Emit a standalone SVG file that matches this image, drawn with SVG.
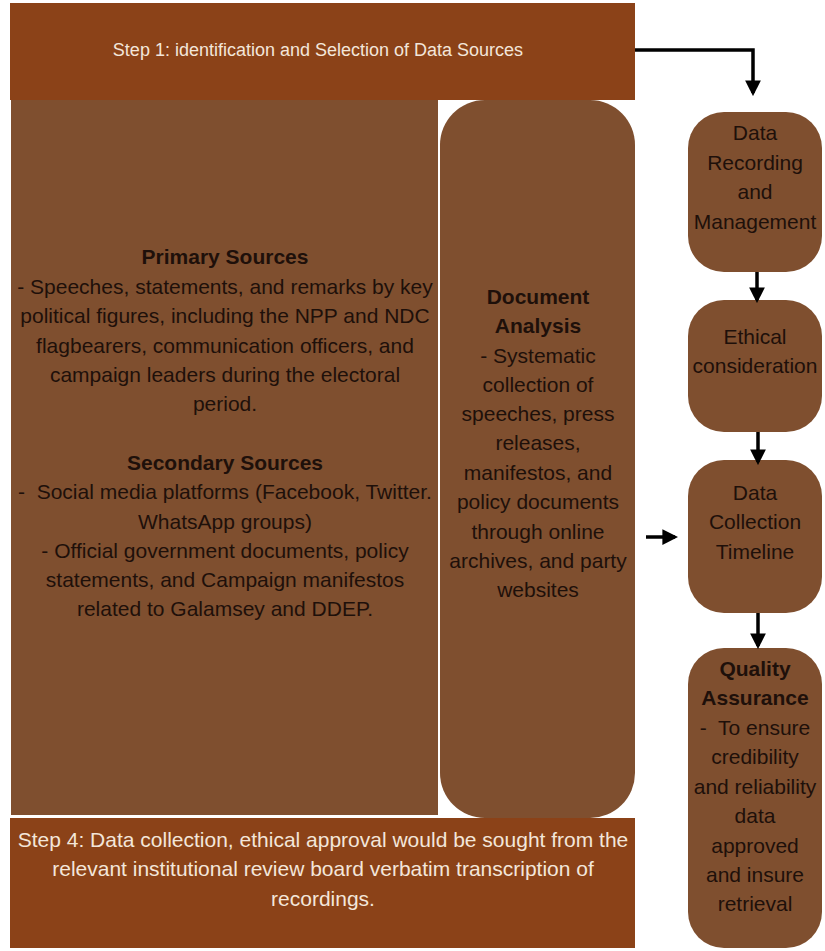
<svg xmlns="http://www.w3.org/2000/svg" width="825" height="951" viewBox="0 0 825 951">
<defs>
<style>
.step{fill:#8B4218;}
.box{fill:#7F4F2F;}
.t{font-family:"Liberation Sans",Arial,sans-serif;font-size:21px;fill:#1E100A;text-anchor:middle;}
.b{font-weight:bold;}
.w{font-family:"Liberation Sans",Arial,sans-serif;fill:#F3E6DA;text-anchor:middle;}
.c{stroke:#000;stroke-width:3.5;fill:none;}
</style>
<marker id="ah" viewBox="0 0 10 10" refX="8" refY="5" markerWidth="4.5" markerHeight="4.5" orient="auto" markerUnits="strokeWidth">
<path d="M0,0 L10,5 L0,10 Z" fill="#000"/>
</marker>
</defs>
<rect width="825" height="951" fill="#fff"/>
<g id="step1">
<rect class="step" x="10" y="3" width="625" height="97"/>
<text class="w" x="318" y="56" font-size="18">Step 1: identification and Selection of Data Sources</text>
</g>
<g id="sources">
<rect class="box" x="11" y="100" width="427" height="715"/>
<text class="t b" x="225" y="264">Primary Sources</text>
<text class="t" x="225" y="294">- Speeches, statements, and remarks by key</text>
<text class="t" x="225" y="323">political figures, including the NPP and NDC</text>
<text class="t" x="225" y="353">flagbearers, communication officers, and</text>
<text class="t" x="225" y="382">campaign leaders during the electoral</text>
<text class="t" x="225" y="411">period.</text>
<text class="t b" x="225" y="470">Secondary Sources</text>
<text class="t" x="225" y="499" xml:space="preserve">-  Social media platforms (Facebook, Twitter.</text>
<text class="t" x="225" y="529">WhatsApp groups)</text>
<text class="t" x="225" y="558">- Official government documents, policy</text>
<text class="t" x="225" y="587">statements, and Campaign manifestos</text>
<text class="t" x="225" y="616">related to Galamsey and DDEP.</text>
</g>
<g id="document-analysis">
<rect class="box" x="440" y="100" width="195" height="718" rx="45"/>
<text class="t b" x="538" y="304">Document</text>
<text class="t b" x="538" y="333">Analysis</text>
<text class="t" x="538" y="363">- Systematic</text>
<text class="t" x="538" y="392">collection of</text>
<text class="t" x="538" y="421">speeches, press</text>
<text class="t" x="538" y="450">releases,</text>
<text class="t" x="538" y="480">manifestos, and</text>
<text class="t" x="538" y="509">policy documents</text>
<text class="t" x="538" y="539">through online</text>
<text class="t" x="538" y="568">archives, and party</text>
<text class="t" x="538" y="597">websites</text>
</g>
<g id="step4">
<rect class="step" x="10" y="818" width="625" height="130"/>
<text class="w" x="323" y="847" font-size="21">Step 4: Data collection, ethical approval would be sought from the</text>
<text class="w" x="323" y="876" font-size="21">relevant institutional review board verbatim transcription of</text>
<text class="w" x="323" y="906" font-size="21">recordings.</text>
</g>
<g id="data-recording">
<rect class="box" x="688" y="112" width="134" height="160" rx="36"/>
<text class="t" x="755" y="140">Data</text>
<text class="t" x="755" y="170">Recording</text>
<text class="t" x="755" y="199">and</text>
<text class="t" x="755" y="229">Management</text>
</g>
<g id="ethical">
<rect class="box" x="688" y="300" width="134" height="132" rx="36"/>
<text class="t" x="755" y="344">Ethical</text>
<text class="t" x="755" y="373">consideration</text>
</g>
<g id="timeline">
<rect class="box" x="688" y="460" width="134" height="153" rx="36"/>
<text class="t" x="755" y="500">Data</text>
<text class="t" x="755" y="529">Collection</text>
<text class="t" x="755" y="559">Timeline</text>
</g>
<g id="quality">
<rect class="box" x="688" y="648" width="134" height="300" rx="36"/>
<text class="t b" x="755" y="676">Quality</text>
<text class="t b" x="755" y="705">Assurance</text>
<text class="t" x="755" y="735" xml:space="preserve">-  To ensure</text>
<text class="t" x="755" y="764">credibility</text>
<text class="t" x="755" y="794">and reliability</text>
<text class="t" x="755" y="823">data</text>
<text class="t" x="755" y="853">approved</text>
<text class="t" x="755" y="882">and insure</text>
<text class="t" x="755" y="911">retrieval</text>
</g>
<g id="connectors">
<path class="c" d="M635,50 H753 V93" marker-end="url(#ah)"/>
<path class="c" d="M757,272 V300" marker-end="url(#ah)"/>
<path class="c" d="M758,432 V462" marker-end="url(#ah)"/>
<path class="c" d="M758,613 V646" marker-end="url(#ah)"/>
<path class="c" d="M646,537 H675" marker-end="url(#ah)"/>
</g>
</svg>
